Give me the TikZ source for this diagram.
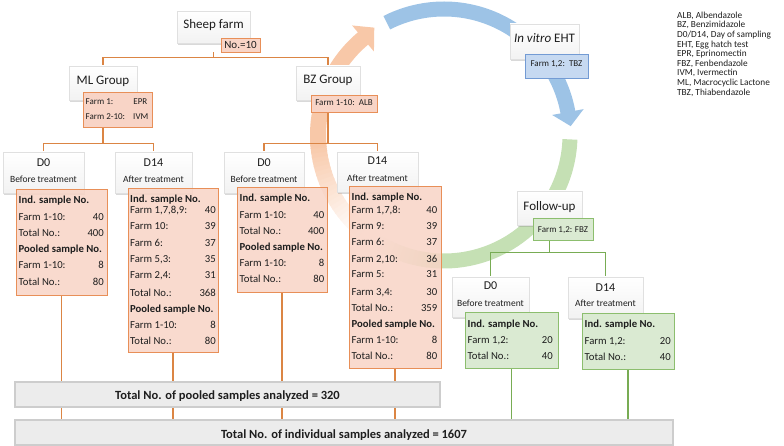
\documentclass[tikz,border=0pt]{standalone}
\usepackage{fontspec}
\setmainfont{Carlito}
\usetikzlibrary{shadows}
\definecolor{cOline}{RGB}{219,133,68}
\definecolor{cOfill}{RGB}{248,212,198}
\definecolor{cOborder}{RGB}{232,143,88}
\definecolor{cGline}{RGB}{120,172,84}
\definecolor{cGfill}{RGB}{218,234,210}
\definecolor{cGborder}{RGB}{140,190,110}
\definecolor{cBfill}{RGB}{198,217,241}
\definecolor{cBborder}{RGB}{115,155,212}
\definecolor{cOarc}{RGB}{248,200,168}
\definecolor{cBarc}{RGB}{157,195,230}
\definecolor{cGarc}{RGB}{197,224,180}
\definecolor{cBarfill}{RGB}{236,236,236}
\definecolor{cBarborder}{RGB}{205,205,205}
\definecolor{cTxt}{RGB}{30,30,30}
\pgfdeclarelayer{arcs}
\pgfdeclarelayer{lines}
\pgfsetlayers{arcs,lines,main}
\newcommand\mkbox[6]{\node[#1, minimum width={(#4)-(#2)}, minimum height={(#5)-(#3)}] (#6) at ({((#2)+(#4))/2},{((#3)+(#5))/2}) {};}
\newcommand\drow[6]{\node[dtxt, anchor=base west] (#1l) at (#2,#4) {#5};\node[dtxt, anchor=base east] (#1r) at (#3,#4) {#6};}
\newcommand\dhead[4]{\node[dtxt, anchor=base west] (#1) at (#2,#3) {\bfseries #4};}
\begin{document}
\begin{tikzpicture}[x=1pt,y=-1pt,
  hdr/.style={rectangle, draw=black!12, line width=0.6, top color=white, bottom color=black!5, inner sep=0,
     drop shadow={shadow xshift=0.6pt, shadow yshift=-2.2pt, opacity=0.3}},
  otag/.style={rectangle, draw=cOborder, fill=cOfill, line width=0.9, inner sep=0},
  odata/.style={rectangle, draw=cOborder, fill=cOfill, fill opacity=0.86, line width=1, inner sep=0},
  gdata/.style={rectangle, draw=cGborder, fill=cGfill, line width=1, inner sep=0},
  btag/.style={rectangle, draw=cBborder, fill=cBfill, line width=0.9, inner sep=0},
  bar/.style={rectangle, draw=cBarborder, fill=cBarfill, line width=1.4, inner sep=0},
  ol/.style={draw=cOline, line width=1.4},
  gl/.style={draw=cGline, line width=1.4},
  big/.style={font=\fontsize{13}{15}\selectfont, inner sep=0, anchor=base, text=cTxt},
  dtitle/.style={font=\fontsize{12}{14}\selectfont, inner sep=0, anchor=base, text=cTxt},
  dsub/.style={font=\fontsize{9.5}{11}\selectfont, inner sep=0, anchor=base, text=cTxt},
  dtxt/.style={font=\fontsize{10.7}{12}\selectfont, inner sep=0, text=cTxt},
  tagtxt/.style={font=\fontsize{9}{10}\selectfont, inner sep=0, text=cTxt},
  legtxt/.style={font=\fontsize{9.3}{10}\selectfont, inner sep=0, text=cTxt},
  bartxt/.style={font=\fontsize{12.5}{14}\selectfont\bfseries, inner sep=0, anchor=base, text=cTxt}
]
\useasboundingbox (0,0) rectangle (784,446);

% ---------- cycle arcs ----------
\begin{pgfonlayer}{arcs}
\foreach \a in {230,228,...,186}{
  \pgfmathsetmacro\b{\a-2.6}
  \pgfmathsetmacro\p{(230-\a)/45*100}
  \draw[line width=16, draw=cOarc!\p!white] plot[domain=\b:\a, samples=4] ({444+126*cos(\x)},{135-126*sin(\x)});
}
\draw[line width=16, draw=cOarc] plot[domain=129.5:185, samples=50] ({444+126*cos(\x)},{135-126*sin(\x)});
\fill[cOarc] ({444+143*cos(130)},{135-143*sin(130)}) -- ({444+128*cos(123)},{135-128*sin(123)}) -- ({444+109*cos(130)},{135-109*sin(130)}) -- cycle;
\draw[line width=15, draw=cBarc] plot[domain=10:117, samples=80] ({444+126*cos(\x)},{135-126*sin(\x)});
\fill[cBarc] ({444+142*cos(10.5)},{135-142*sin(10.5)}) -- ({444+127*cos(4)},{135-127*sin(4)}) -- ({444+110*cos(10.5)},{135-110*sin(10.5)}) -- cycle;
\draw[line width=15, draw=cGarc] plot[domain=-96:-2, samples=70] ({444+126*cos(\x)},{135-126*sin(\x)});
\foreach \a in {-122,-120,...,-98}{
  \pgfmathsetmacro\b{\a+2.6}
  \pgfmathsetmacro\p{(\a+122)/25*100}
  \draw[line width=15, draw=cGarc!\p!white] plot[domain=\a:\b, samples=4] ({444+126*cos(\x)},{135-126*sin(\x)});
}
\end{pgfonlayer}

% ---------- top group boxes ----------
\mkbox{hdr}{177}{11}{250}{43}{sheep}
\node[big] (sheept) at (213.5,29) {Sheep farm};
\mkbox{otag}{221}{38}{260}{52}{sheeptag}
\node[font=\fontsize{11}{12}\selectfont, inner sep=0, anchor=base, text=cTxt] (sheeptagt) at (240.5,48.5) {No.=10};

\mkbox{hdr}{69}{66}{137}{100}{mlg}
\node[big] (mlgt) at (103,85) {ML Group};
\mkbox{otag}{83}{92}{152}{127}{mltag}
\node[tagtxt, anchor=base west] (mltag1l) at (85.5,105) {Farm 1:};
\node[tagtxt, anchor=base east] (mltag1r) at (147.5,105) {EPR};
\node[tagtxt, anchor=base west] (mltag2l) at (85.5,120) {Farm 2-10:};
\node[tagtxt, anchor=base east] (mltag2r) at (148.5,120) {IVM};

\mkbox{hdr}{296}{66}{360}{100}{bzg}
\node[big] (bzgt) at (328,84) {BZ Group};
\mkbox{otag}{311}{95}{377}{112}{bztag}
\node[tagtxt, anchor=base] (bztagt) at (344,106) {Farm 1-10:\ \ ALB};

\mkbox{hdr}{510}{24}{579}{59}{eht}
\node[big] (ehtt) at (544.5,43) {\textit{In vitro} EHT};
\mkbox{btag}{525}{54}{588}{78}{ehttag}
\node[tagtxt, anchor=base] (ehttagt) at (556.5,67) {Farm 1,2:\ \ TBZ};

\mkbox{hdr}{517}{191}{582}{225}{fu}
\node[big] (fut) at (549.5,211) {Follow-up};
\mkbox{gdata}{533}{219}{593}{241}{futag}
\node[tagtxt, anchor=base] (futagt) at (563,233) {Farm 1,2: FBZ};

% ---------- day headers ----------
\mkbox{hdr}{3}{152}{84}{193}{md0h}
\node[dtitle] (md0t) at (43.5,167) {D0};
\node[dsub] (md0s) at (43.5,183) {Before treatment};
\mkbox{hdr}{115}{152}{192}{193}{md14h}
\node[dtitle] (md14t) at (153.5,167) {D14};
\node[dsub] (md14s) at (153.5,183) {After treatment};
\mkbox{hdr}{224}{152}{304}{193}{bd0h}
\node[dtitle] (bd0t) at (264,167) {D0};
\node[dsub] (bd0s) at (264,183) {Before treatment};
\mkbox{hdr}{337}{152}{418}{192}{bd14h}
\node[dtitle] (bd14t) at (377.5,165) {D14};
\node[dsub] (bd14s) at (377.5,181.5) {After treatment};
\mkbox{hdr}{452}{277}{529}{317}{gd0h}
\node[dtitle] (gd0t) at (490.5,290) {D0};
\node[dsub] (gd0s) at (490.5,306) {Before treatment};
\mkbox{hdr}{568}{277}{643}{318}{gd14h}
\node[dtitle] (gd14t) at (605.5,291) {D14};
\node[dsub] (gd14s) at (605.5,306.5) {After treatment};

% ---------- data boxes ----------
\mkbox{odata}{16}{190}{107}{295}{md0d}
\dhead{md0a}{18.5}{204}{Ind. sample No.}
\drow{md0b}{18.5}{104}{221}{Farm 1-10:}{40}
\drow{md0c}{18.5}{104}{237}{Total No.:}{400}
\dhead{md0e}{18.5}{253}{Pooled sample No.}
\drow{md0f}{18.5}{104}{269}{Farm 1-10:}{8}
\drow{md0g}{18.5}{104}{285}{Total No.:}{80}

\mkbox{odata}{128}{189}{218}{352}{md14d}
\dhead{mda}{130}{203}{Ind. sample No.}
\drow{mdb}{130}{216}{214}{Farm 1,7,8,9:}{40}
\drow{mdc}{130}{216}{230}{Farm 10:}{39}
\drow{mdd}{130}{216}{247}{Farm 6:}{37}
\drow{mde}{130}{216}{263}{Farm 5,3:}{35}
\drow{mdf}{130}{216}{279}{Farm 2,4:}{31}
\drow{mdg}{130}{216}{296}{Total No.:}{368}
\dhead{mdh}{130}{312}{Pooled sample No.}
\drow{mdi}{130}{216}{328}{Farm 1-10:}{8}
\drow{mdj}{130}{216}{344}{Total No.:}{80}

\mkbox{odata}{237}{188}{327}{292}{bd0d}
\dhead{bda}{239.5}{202}{Ind. sample No.}
\drow{bdb}{239.5}{324.5}{219}{Farm 1-10:}{40}
\drow{bdc}{239.5}{324.5}{235}{Total No.:}{400}
\dhead{bdd}{239.5}{251}{Pooled sample No.}
\drow{bde}{239.5}{324.5}{267}{Farm 1-10:}{8}
\drow{bdf}{239.5}{324.5}{283}{Total No.:}{80}

\mkbox{odata}{349}{187}{441}{368}{bd14d}
\dhead{bea}{351.5}{201}{Ind. sample No.}
\drow{beb}{351.5}{437.5}{213.5}{Farm 1,7,8:}{40}
\drow{bec}{351.5}{437.5}{229.5}{Farm 9:}{39}
\drow{bed}{351.5}{437.5}{246}{Farm 6:}{37}
\drow{bee}{351.5}{437.5}{262}{Farm 2,10:}{36}
\drow{bef}{351.5}{437.5}{278}{Farm 5:}{31}
\drow{beg}{351.5}{437.5}{295}{Farm 3,4:}{30}
\drow{beh}{351.5}{437.5}{311}{Total No.:}{359}
\dhead{bei}{351.5}{327}{Pooled sample No.}
\drow{bej}{351.5}{437.5}{343}{Farm 1-10:}{8}
\drow{bek}{351.5}{437.5}{359.5}{Total No.:}{80}

\mkbox{gdata}{465}{312}{558}{368}{gd0d}
\dhead{gda}{467.5}{327}{Ind. sample No.}
\drow{gdb}{467.5}{553}{343}{Farm 1,2:}{20}
\drow{gdc}{467.5}{553}{359}{Total No.:}{40}

\mkbox{gdata}{582}{313}{674}{369}{gd14d}
\dhead{gea}{584.5}{327.5}{Ind. sample No.}
\drow{geb}{584.5}{671}{344}{Farm 1,2:}{20}
\drow{gec}{584.5}{671}{360}{Total No.:}{40}

% ---------- total bars ----------
\mkbox{bar}{15}{382}{440}{407}{poolbar}
\node[bartxt] (poolbart) at (227.5,399) {Total No. of pooled samples analyzed = 320};
\mkbox{bar}{15}{420}{673}{445}{indbar}
\node[bartxt] (indbart) at (344,438) {Total No. of individual samples analyzed = 1607};

% ---------- legend ----------
\foreach \t [count=\i] in {{ALB, Albendazole},{BZ, Benzimidazole},{D0/D14, Day of sampling},{EHT, Egg hatch test},{EPR, Eprinomectin},{FBZ, Fenbendazole},{IVM, Ivermectin},{ML, Macrocyclic Lactone},{TBZ, Thiabendazole}}
  \node[legtxt, anchor=base west] (leg\i) at (677,{18.3+9.6*(\i-1)}) {\t};

% ---------- connectors ----------
\begin{pgfonlayer}{lines}
\draw[ol] (sheep.center |- sheeptag.south) -- ++(0,5) -| (mlg.north);
\draw[ol] (sheep.center |- sheeptag.south) -- ++(0,5) -| (bzg.north);
\draw[ol] (mlg.center |- mltag.south) -- ++(0,16) -| (md0h.north);
\draw[ol] (mlg.center |- mltag.south) -- ++(0,16) -| (md14h.north);
\draw[ol] (bzg.center |- bztag.south) -- ++(0,31) -| (bd0h.north);
\draw[ol] (bzg.center |- bztag.south) -- ++(0,31) -| (bd14h.north);
\draw[gl] (fu.center |- futag.south) -- ++(0,11) -| (gd0h.north);
\draw[gl] (fu.center |- futag.south) -- ++(0,11) -| (gd14h.north);
\draw[ol] (md0d.south) -- (md0d.south |- indbar.north);
\draw[ol] (md14d.south) -- (md14d.south |- indbar.north);
\draw[ol] (bd0d.south) -- (bd0d.south |- indbar.north);
\draw[ol] (bd14d.south) -- (bd14d.south |- indbar.north);
\draw[gl] (gd0d.south) -- (gd0d.south |- indbar.north);
\draw[gl] (gd14d.south) -- (gd14d.south |- indbar.north);
\end{pgfonlayer}
\end{tikzpicture}
\end{document}
